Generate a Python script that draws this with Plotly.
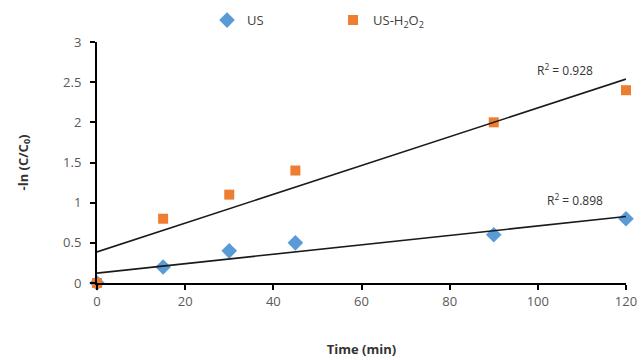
import numpy as np
import plotly.graph_objects as go

time_min = [0, 15, 30, 45, 90, 120]
us_vals = [0, 0.2, 0.4, 0.5, 0.6, 0.8]
ush2o2_vals = [0, 0.8, 1.1, 1.4, 2.0, 2.4]
r2_labels = ["R<sup>2</sup> = 0.928", "R<sup>2</sup> = 0.898"]

fig = go.Figure()
fig.add_trace(go.Scatter(x=time_min, y=us_vals, mode="markers", name="US",
                         marker=dict(symbol="diamond", size=12, color="#5B9BD5"),
                         cliponaxis=False))
fig.add_trace(go.Scatter(x=time_min, y=ush2o2_vals, mode="markers", name="US-H<sub>2</sub>O<sub>2</sub>",
                         marker=dict(symbol="square", size=10, color="#ED7D31"),
                         cliponaxis=False))

xs = np.array([min(time_min), max(time_min)], dtype=float)
for vals in (ush2o2_vals, us_vals):
    m, b = np.polyfit(time_min, vals, 1)
    fig.add_trace(go.Scatter(x=xs, y=m * xs + b, mode="lines", showlegend=False,
                             line=dict(color="#1a1a1a", width=1.6), hoverinfo="skip",
                             cliponaxis=False))

fig.add_annotation(x=106.2, y=2.65, text=r2_labels[0], showarrow=False,
                   font=dict(size=12, color="#333333"))
fig.add_annotation(x=108.4, y=1.03, text=r2_labels[1], showarrow=False,
                   font=dict(size=12, color="#333333"))

fig.update_layout(
    width=642, height=360,
    margin=dict(l=97, r=16, t=42, b=77, autoexpand=False),
    paper_bgcolor="white", plot_bgcolor="white",
    font=dict(family="Open Sans", size=13, color="#595959"),
    showlegend=True,
    legend=dict(orientation="h", x=0.208, y=0.944, yref="container",
                xanchor="left", yanchor="middle",
                entrywidth=81, entrywidthmode="pixels",
                font=dict(size=13, color="#404040"), itemwidth=30),
    xaxis=dict(range=[0, 120], tickvals=[0, 20, 40, 60, 80, 100, 120],
               automargin=False, ticklabeloverflow="allow",
               showgrid=False, zeroline=False, showline=True, linecolor="black",
               linewidth=2, ticks="outside", ticklen=5, tickwidth=2, tickcolor="black",
               title=dict(text="<b>Time (min)</b>", font=dict(size=13, color="#333333"), standoff=36)),
    yaxis=dict(range=[0, 3], tickvals=[0, 0.5, 1, 1.5, 2, 2.5, 3],
               automargin=False, ticklabeloverflow="allow",
               showgrid=False, zeroline=False, showline=True, linecolor="black",
               linewidth=2, ticks="outside", ticklen=5, tickwidth=2, tickcolor="black",
               ticklabelstandoff=6,
               title=dict(text="<b>-ln (C/C<sub>0</sub>)</b>", font=dict(size=13, color="#333333"), standoff=32)),
)

fig.write_html("out.html")
